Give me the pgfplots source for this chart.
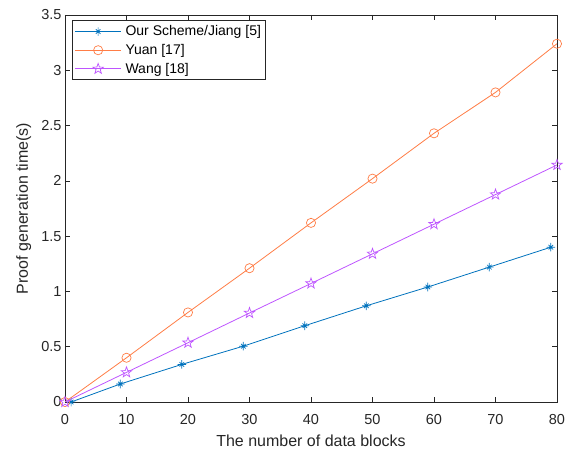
\documentclass[border=0pt]{standalone}
\usepackage{pgfplots}
\pgfplotsset{compat=1.18}
\usepackage{fontspec}
\setmainfont{Liberation Sans}

\definecolor{mblue}{RGB}{0,114,189}
\definecolor{morange}{RGB}{255,125,70}
\definecolor{mpurple}{RGB}{190,85,255}
\definecolor{axgray}{RGB}{38,38,38}

% matlab style '*' and 'p' markers
\pgfdeclareplotmark{mstar}{%
  \pgfpathmoveto{\pgfqpoint{-\pgfplotmarksize}{0pt}}\pgfpathlineto{\pgfqpoint{\pgfplotmarksize}{0pt}}%
  \pgfpathmoveto{\pgfqpoint{0pt}{-\pgfplotmarksize}}\pgfpathlineto{\pgfqpoint{0pt}{\pgfplotmarksize}}%
  \pgfpathmoveto{\pgfpointpolar{45}{0.75\pgfplotmarksize}}\pgfpathlineto{\pgfpointpolar{225}{0.75\pgfplotmarksize}}%
  \pgfpathmoveto{\pgfpointpolar{135}{0.75\pgfplotmarksize}}\pgfpathlineto{\pgfpointpolar{315}{0.75\pgfplotmarksize}}%
  \pgfusepathqstroke}
\pgfdeclareplotmark{pentagram}{%
  \pgfpathmoveto{\pgfpointpolar{90}{\pgfplotmarksize}}%
  \pgfpathlineto{\pgfpointpolar{126}{0.4\pgfplotmarksize}}%
  \pgfpathlineto{\pgfpointpolar{162}{\pgfplotmarksize}}%
  \pgfpathlineto{\pgfpointpolar{198}{0.4\pgfplotmarksize}}%
  \pgfpathlineto{\pgfpointpolar{234}{\pgfplotmarksize}}%
  \pgfpathlineto{\pgfpointpolar{270}{0.4\pgfplotmarksize}}%
  \pgfpathlineto{\pgfpointpolar{306}{\pgfplotmarksize}}%
  \pgfpathlineto{\pgfpointpolar{342}{0.4\pgfplotmarksize}}%
  \pgfpathlineto{\pgfpointpolar{18}{\pgfplotmarksize}}%
  \pgfpathlineto{\pgfpointpolar{54}{0.4\pgfplotmarksize}}%
  \pgfpathclose\pgfusepathqstroke}

\begin{document}
\begin{tikzpicture}
\useasboundingbox (-65pt,-50pt) rectangle (508pt,402pt);
\begin{axis}[
  at={(0pt,0pt)}, anchor=south west,
  scale only axis,
  width=492pt, height=387pt,
  xmin=0, xmax=80, ymin=0, ymax=3.5,
  xtick={0,10,...,80},
  ytick={0,0.5,...,3.5},
  tick align=inside,
  major tick length=5pt,
  axis line style={axgray, line width=0.6pt},
  every tick/.style={axgray, line width=0.6pt},
  tick label style={font=\fontsize{14.5}{16}\selectfont, text=axgray},
  /pgf/number format/assume math mode=true,
  xticklabel style={anchor=base, yshift=-23pt},
  xlabel={The number of data blocks},
  ylabel={Proof generation time(s)},
  every axis x label/.style={at={(axis description cs:0.5,0)}, anchor=base, yshift=-45pt,
    font=\fontsize{16}{18}\selectfont, text=axgray},
  every axis y label/.style={at={(axis description cs:0,0.5)}, xshift=-37pt, rotate=90, anchor=base,
    font=\fontsize{16}{18}\selectfont, text=axgray},
  legend style={at={(axis description cs:0,1)}, anchor=north west, xshift=7.5pt, yshift=-5.5pt,
    draw=axgray, line width=0.5pt, font=\fontsize{14}{16}\selectfont,
    inner xsep=2pt, inner ysep=2.5pt, row sep=2pt,
    nodes={inner sep=2.5pt, text=black}},
  legend cell align=left,
  legend image code/.code={\draw[mark repeat=2, mark phase=2] plot coordinates {(0pt,0pt) (23pt,0pt) (46pt,0pt)};},
]
\addplot[mblue, line width=0.8pt, mark=mstar, mark size=4.3pt, mark options={line width=0.7pt}]
  coordinates {(1,0) (9,0.163) (19,0.34) (29,0.505) (39,0.69) (49,0.87) (59,1.04) (69,1.22) (79,1.40)};
\addplot[morange, line width=0.8pt, mark=o, mark size=4.6pt, mark options={line width=0.7pt}]
  coordinates {(0,0) (10,0.40) (20,0.81) (30,1.21) (40,1.62) (50,2.02) (60,2.43) (70,2.80) (80,3.24)};
\addplot[mpurple, line width=0.8pt, mark=pentagram, mark size=5.5pt, mark options={line width=0.7pt}]
  coordinates {(0,0) (10,0.268) (20,0.536) (30,0.805) (40,1.072) (50,1.34) (60,1.608) (70,1.876) (80,2.144)};
\legend{\hspace{1.5pt}Our Scheme/Jiang [5], \hspace{1.5pt}Yuan [17], \hspace{1.5pt}Wang [18]}
\end{axis}
\end{tikzpicture}
\end{document}
